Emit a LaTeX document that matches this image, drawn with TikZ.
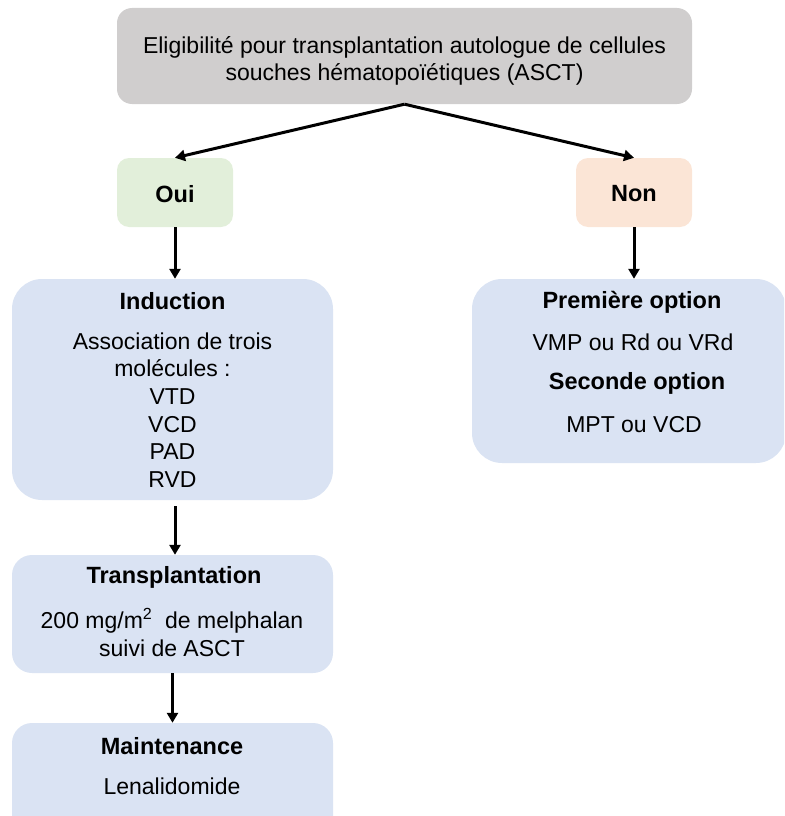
\documentclass[tikz,border=0pt]{standalone}
\usepackage{fontspec}
\setmainfont{Liberation Sans}
\usetikzlibrary{arrows.meta}
\definecolor{grisbox}{HTML}{D0CECE}
\definecolor{vertbox}{HTML}{E2EFDA}
\definecolor{orangebox}{HTML}{FBE5D6}
\definecolor{bleubox}{HTML}{DAE3F3}
\tikzset{
	boite/.style={inner sep=0pt, draw=none},
	titre/.style={font=\fontsize{23.5}{28}\selectfont\bfseries},
	corps/.style={font=\fontsize{23}{27.6}\selectfont, align=center},
	fleche/.style={-{Triangle[length=10pt,width=11pt]}, line width=3pt},
}
\begin{document}
\begin{tikzpicture}[x=1pt,y=-1pt]
	\clip (0,0) rectangle (784,816);
	% boites
	\node[boite,fill=grisbox,rounded corners=15pt,minimum width=575pt,minimum height=96pt] (elig) at (404.5,56) {};
	\node[boite,fill=vertbox,rounded corners=12pt,minimum width=116pt,minimum height=69pt] (oui) at (175,192.5) {};
	\node[boite,fill=orangebox,rounded corners=12pt,minimum width=116pt,minimum height=69pt] (non) at (634,192.5) {};
	\node[boite,fill=bleubox,rounded corners=30pt,minimum width=321pt,minimum height=221pt] (induction) at (172.5,389.5) {};
	\node[boite,fill=bleubox,rounded corners=30pt,minimum width=314pt,minimum height=184pt] (options) at (629,371) {};
	\node[boite,fill=bleubox,rounded corners=20pt,minimum width=321pt,minimum height=118pt] (transplant) at (172.5,614) {};
	\node[boite,fill=bleubox,rounded corners=20pt,minimum width=321pt,minimum height=120pt] (maint) at (172.5,783) {};
	% textes
	\node[corps] (eligtxt) at (404.5,61) {Eligibilité pour transplantation autologue de cellules\\souches hématopoïétiques (ASCT)};
	\node[titre] (ouitxt) at (175,194) {Oui};
	\node[titre] (nontxt) at (634,194) {Non};
	\node[titre] (indtitre) at (172.5,301) {Induction};
	\node[corps] (indtxt) at (172.5,410) {Association de trois\\molécules :\\VTD\\VCD\\PAD\\RVD};
	\node[titre] (opt1) at (632,302) {Première option};
	\node[corps] (opt1txt) at (633,342) {VMP ou Rd ou VRd};
	\node[titre] (opt2) at (637,383) {Seconde option};
	\node[corps] (opt2txt) at (634,425) {MPT ou VCD};
	\node[titre] (trtitre) at (174,577) {Transplantation};
	\node[corps] (trtxt) at (172,632.5) {200 mg/m\textsuperscript{2}\ \ de melphalan\\suivi de ASCT};
	\node[titre] (mtitre) at (172,746) {Maintenance};
	\node[corps] (mtxt) at (172,786) {Lenalidomide};
	% fleches
	\draw[fleche] (elig.south) -- (oui.north);
	\draw[fleche] (elig.south) -- (non.north);
	\draw[fleche] (oui.south) -- (oui.south |- induction.north);
	\draw[fleche] (non.south) -- (non.south |- options.north);
	\draw[fleche] (175,506) coordinate (indbas) -- (indbas |- transplant.north);
	\draw[fleche] (transplant.south) -- (transplant.south |- maint.north);
\end{tikzpicture}
\end{document}
